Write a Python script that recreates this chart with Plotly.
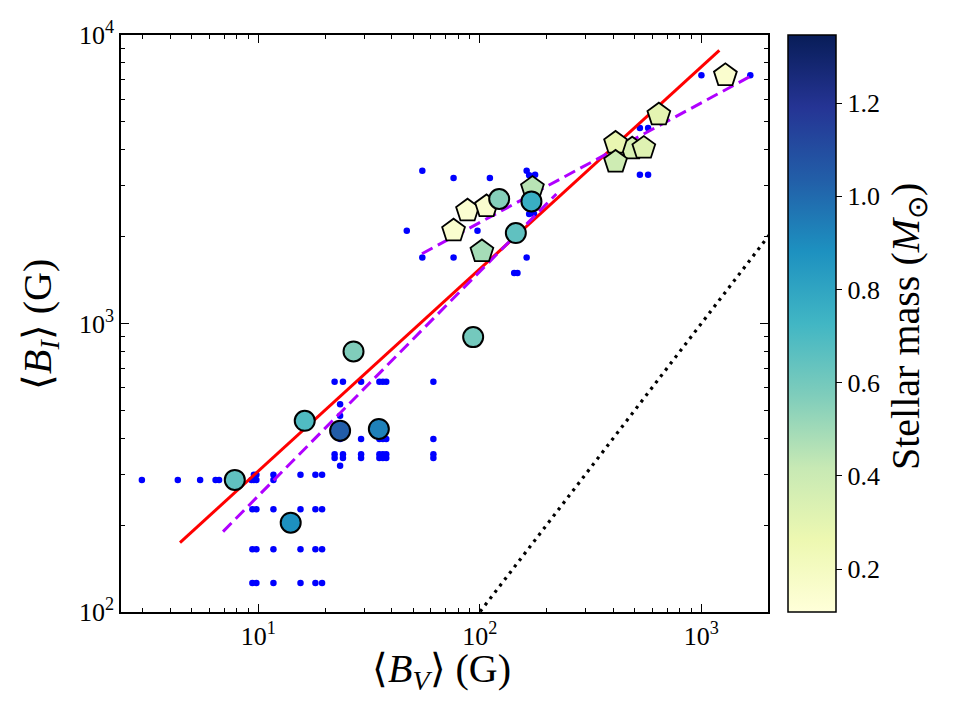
import plotly.graph_objects as go

# ---------------- data ----------------
# small blue dots: individual measurements
dot_bv = [2.98, 4.33, 5.46, 6.41, 6.65, 9.31, 9.55, 9.8, 11.7,
          9.55, 9.8, 11.7, 15.5, 18.1, 19.4,
          9.4, 9.8, 11.7, 15.5, 18.1, 19.4,
          9.4, 9.8, 11.7, 15.5, 18.1, 19.4,
          9.4, 9.8, 11.7, 15.5, 18.1, 19.4,
          22.1, 24.1, 29.1, 35.2, 36.5, 37.8, 61.7,
          23.4, 29.1, 35.2, 36.5, 37.8, 61.7,
          22.1, 24.1, 29.1, 35.2, 36.5, 37.8, 61.7,
          22.1, 24.1, 29.1, 35.2, 36.5, 37.8, 61.7,
          23.4, 23.4, 23.4,
          55.0, 76.1, 111, 162.7, 167, 177.6, 46.8, 97.6, 55.0, 76.1, 162.7,
          142.9, 147.9, 167, 175.6, 528, 575, 528, 575, 1001, 1664]
dot_bi = [287, 287, 287, 287, 287, 287, 287, 287, 287,
          299, 299, 299, 299, 299, 299,
          227, 227, 227, 227, 227, 227,
          165, 165, 165, 165, 165, 165,
          126, 126, 126, 126, 126, 126,
          628, 628, 628, 628, 628, 628, 628,
          398, 398, 398, 398, 398, 398,
          352, 352, 352, 352, 352, 352, 352,
          342, 342, 342, 342, 342, 342, 342,
          525, 479, 321,
          3386, 3194, 3194, 3386, 3266, 3280, 2097, 2097, 1694, 1694, 1694,
          1495, 1495, 2396, 2396, 4763, 4763, 3280, 3280, 7246, 7250]

# circles (one population) and pentagons (other population)
circ_bv = [7.83, 14.0, 16.2, 23.4, 35.0, 26.9, 93.3, 145.4, 122.3, 171]
circ_bi = [287, 204, 460, 425, 431, 800, 897, 2058, 2701, 2650]
circ_mass = [0.65, 0.88, 0.69, 1.04, 0.93, 0.57, 0.60, 0.65, 0.56, 0.76]

pent_bv = [76.1, 88.0, 107.2, 102.2, 172.8, 487.5, 410, 550, 410, 643, 1284]
pent_bi = [2097, 2460, 2546, 1777, 2949, 4036, 4224, 4058, 3631, 5294, 7246]
pent_mass = [0.15, 0.14, 0.15, 0.49, 0.45, 0.35, 0.28, 0.32, 0.39, 0.30, 0.15]

# fit lines
fit_bv = [4.43, 1206]
fit_bi = [174, 8850]
fit_low_bv = [6.93, 221.6]
fit_low_bi = [190, 2812]
fit_high_bv = [54.8, 1722]
fit_high_bi = [1745, 7290]
one_bv = [1, 10000]
one_bi = [1, 10000]

mass_min, mass_max = 0.108, 1.346
cbar_ticks = [0.2, 0.4, 0.6, 0.8, 1.0, 1.2]

x_minor = [m * 10 ** k for k in range(0, 4) for m in range(2, 10)]
y_minor = [m * 10 ** k for k in range(2, 4) for m in range(2, 10)]

ylgnbu = ["#ffffd9", "#edf8b1", "#c7e9b4", "#7fcdbb", "#41b6c4",
          "#1d91c0", "#225ea8", "#253494", "#081d58"]
cscale = [[i / (len(ylgnbu) - 1), c] for i, c in enumerate(ylgnbu)]

FONT = "Liberation Serif"

fig = go.Figure()

fig.add_trace(go.Scatter(x=one_bv, y=one_bi, mode="lines",
                         line=dict(color="black", width=3.2, dash="3px,5px"),
                         showlegend=False, hoverinfo="skip"))
fig.add_trace(go.Scatter(x=dot_bv, y=dot_bi, mode="markers",
                         marker=dict(color="#0000ff", size=6.5, line=dict(width=0)),
                         showlegend=False))
fig.add_trace(go.Scatter(x=fit_bv, y=fit_bi, mode="lines",
                         line=dict(color="#ff0000", width=3),
                         showlegend=False))
fig.add_trace(go.Scatter(x=fit_low_bv, y=fit_low_bi, mode="lines",
                         line=dict(color="#b000ff", width=3, dash="12px,6px"),
                         showlegend=False))
fig.add_trace(go.Scatter(x=fit_high_bv, y=fit_high_bi, mode="lines",
                         line=dict(color="#b000ff", width=3, dash="12px,6px"),
                         showlegend=False))
fig.add_trace(go.Scatter(x=pent_bv, y=pent_bi, mode="markers",
                         marker=dict(symbol="pentagon", size=24, color=pent_mass,
                                     colorscale=cscale, cmin=mass_min, cmax=mass_max,
                                     line=dict(color="black", width=1.8)),
                         showlegend=False))
fig.add_trace(go.Scatter(x=circ_bv, y=circ_bi, mode="markers",
                         marker=dict(symbol="circle", size=20, color=circ_mass,
                                     colorscale=cscale, cmin=mass_min, cmax=mass_max,
                                     line=dict(color="black", width=2),
                                     showscale=True,
                                     colorbar=dict(
                                         x=(788 - 121) / 647, xanchor="left", xpad=0,
                                         y=0.5, yanchor="middle", len=1, lenmode="fraction",
                                         ypad=0, thickness=48, thicknessmode="pixels",
                                         outlinewidth=1.5, outlinecolor="black",
                                         ticks="outside", ticklen=6, tickwidth=1.2,
                                         tickcolor="black",
                                         tickvals=cbar_ticks,
                                         ticktext=["%.1f" % v for v in cbar_ticks],
                                         tickfont=dict(family=FONT, size=26, color="black"),
                                     )),
                         showlegend=False))

axis_common = dict(
    type="log", showgrid=False, zeroline=False,
    showline=True, linecolor="black", linewidth=1.5, mirror="allticks",
    ticks="inside", ticklen=8, tickwidth=1.3, tickcolor="black",
    tickfont=dict(family=FONT, size=26, color="black"),
)

fig.update_xaxes(range=[0.380, 3.301],
                 tickvals=[10, 100, 1000],
                 ticktext=["10<sup>1</sup>", "10<sup>2</sup>", "10<sup>3</sup>"],
                 minor=dict(tickmode="array", tickvals=x_minor, ticks="inside",
                            ticklen=4, tickwidth=1, tickcolor="black", showgrid=False),
                 **axis_common)
fig.update_yaxes(range=[2, 4],
                 tickvals=[100, 1000, 10000],
                 ticktext=["10<sup>2</sup>", "10<sup>3</sup>", "10<sup>4</sup>"],
                 minor=dict(tickmode="array", tickvals=y_minor, ticks="inside",
                            ticklen=4, tickwidth=1, tickcolor="black", showgrid=False),
                 **axis_common)

annos = [
    dict(text="⟨<i>B</i><sub><i>V</i></sub>⟩ (G)", x=(441 - 121) / 647, y=-(671 - 612) / 577,
         textangle=0),
    dict(text="⟨<i>B</i><sub><i>I</i></sub>⟩ (G)", x=-(121 - 40) / 647, y=(612 - 325) / 577,
         textangle=-90),
    dict(text="Stellar mass (<i>M</i><sub>⊙</sub>)", x=(908 - 121) / 647, y=(612 - 327) / 577,
         textangle=-90),
]
for a in annos:
    fig.add_annotation(xref="paper", yref="paper", showarrow=False,
                       xanchor="center", yanchor="middle",
                       font=dict(family=FONT, size=40, color="black"), **a)

fig.update_layout(
    width=961, height=721,
    margin=dict(l=121, r=193, t=35, b=109),
    paper_bgcolor="white", plot_bgcolor="white",
    showlegend=False,
)

fig.write_html("out.html")
